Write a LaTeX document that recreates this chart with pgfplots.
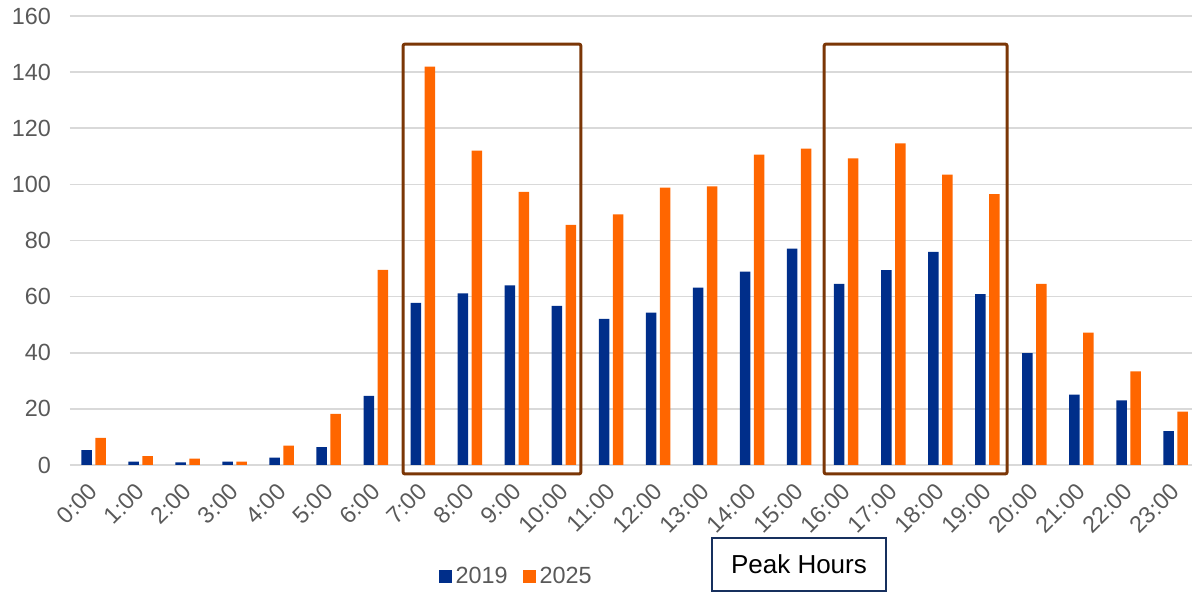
\documentclass[border=0pt]{standalone}
\usepackage{pgfplots}
\pgfplotsset{compat=1.18}
\usepackage{fontspec}
\setmainfont{Liberation Sans}
\definecolor{c2019}{HTML}{002E8A}
\definecolor{c2025}{HTML}{FF6600}
\definecolor{peakbox}{HTML}{7B3606}
\definecolor{labgray}{HTML}{595959}
\definecolor{gridgray}{HTML}{D9D9D9}
\definecolor{navy}{HTML}{17305E}

\begin{document}
\begin{tikzpicture}
\begin{axis}[
  at={(0,0)}, anchor=south west,
  scale only axis, width=561pt, height=224.5pt,
  ybar=1.75pt, bar width=5.25pt,
  xmin=-0.5, xmax=23.35, ymin=0, ymax=160,
  xtick={0,...,23},
  xticklabels={0:00,1:00,2:00,3:00,4:00,5:00,6:00,7:00,8:00,9:00,10:00,11:00,
    12:00,13:00,14:00,15:00,16:00,17:00,18:00,19:00,20:00,21:00,22:00,23:00},
  ytick={0,20,...,160},
  ymajorgrids, grid style={gridgray, line width=0.8pt},
  axis line style={draw=none},
  major tick length=0pt,
  tick label style={font=\fontsize{11.7}{14}\selectfont, text=labgray},
  xticklabel style={rotate=45, anchor=east, yshift=-8pt, xshift=-4.6pt},
  yticklabel style={xshift=-6pt},
  /pgf/number format/assume math mode=true,
  clip=false,
  legend style={at={(0.398,-0.249)}, anchor=center, draw=none, fill=none,
    legend columns=-1, font=\fontsize{11.7}{14}\selectfont, text=labgray,
    nodes={inner xsep=1.5pt},
    /tikz/every odd column/.append style={column sep=0.5pt},
    /tikz/every even column/.append style={column sep=6pt}},
]
\addplot[fill=c2019, draw=none,
  legend image code/.code={\fill[c2019] (0pt,-3.25pt) rectangle (6.5pt,3.25pt);}]
  coordinates {(0,5.3) (1,1.2) (2,0.9) (3,1.2) (4,2.6) (5,6.4) (6,24.6) (7,57.8)
  (8,61.2) (9,64.0) (10,56.7) (11,52.1) (12,54.3) (13,63.2) (14,68.9) (15,77.1)
  (16,64.5) (17,69.4) (18,75.9) (19,60.9) (20,39.9) (21,25.1) (22,23.0) (23,12.1)};
\addplot[fill=c2025, draw=none,
  legend image code/.code={\fill[c2025] (0pt,-3.25pt) rectangle (6.5pt,3.25pt);}]
  coordinates {(0,9.7) (1,3.2) (2,2.3) (3,1.2) (4,6.9) (5,18.2) (6,69.5) (7,142)
  (8,112) (9,97.3) (10,85.6) (11,89.3) (12,98.8) (13,99.3) (14,110.6) (15,112.7)
  (16,109.3) (17,114.6) (18,103.5) (19,96.5) (20,64.5) (21,47.2) (22,33.4) (23,19.0)};
\legend{2019,2025}
\draw[peakbox, line width=1.5pt, rounded corners=1pt]
  (axis cs:6.58,-3.2) rectangle (axis cs:10.36,150);
\draw[peakbox, line width=1.5pt, rounded corners=1pt]
  (axis cs:15.53,-3.2) rectangle (axis cs:19.42,150);
\node[draw=navy, line width=1pt, minimum width=87pt, minimum height=26.5pt,
  inner sep=0pt, font=\fontsize{13}{15}\selectfont]
  at (axis description cs:0.6497,-0.2216) {Peak Hours};
\end{axis}
\pgfresetboundingbox
\useasboundingbox (-35pt,-63.5pt) rectangle (561pt,232.5pt);
\end{tikzpicture}
\end{document}
